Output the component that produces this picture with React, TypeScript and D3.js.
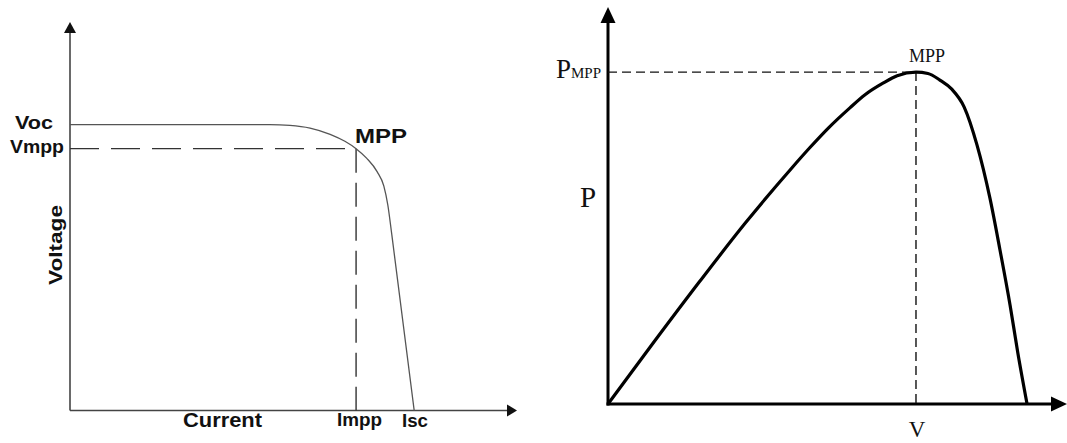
import React from "react";
import * as d3 from "d3";

// ---- Left chart: I-V style curve (Current on x, Voltage on y), units 0..100
const ivCurrent = [0, 44.7, 49.2, 53.7, 58.2, 61.5, 64.0, 66.4, 68.7, 70.2, 71.1, 72.0, 77.0];
const ivVoltage = [73.6, 73.6, 73.4, 72.7, 71.1, 69.3, 67.4, 64.9, 61.5, 57.8, 52.9, 45.2, 0];
const vOC = 73.6;
const vMPP = 67.4;
const iMPP = 64.0;
const iSC = 77.0;
const leftLabels = { voc: "Voc", vmpp: "Vmpp", mpp: "MPP", yTitle: "Voltage", xTitle: "Current", impp: "Impp", isc: "Isc" };

// ---- Right chart: P-V curve, units 0..100
const pvVoltage = [0, 10, 20, 30, 40, 44, 48, 52.7, 56, 59.9, 63, 67.1, 69.7, 72.3, 74.9, 77.6, 80.4, 83.2, 85.4, 87.6, 89.3, 91.3];
const pvPower = [0, 15.6, 30.9, 45.7, 59.4, 64.6, 69.5, 74.6, 77.9, 80.8, 82.7, 83.6, 83.25, 81.6, 79.3, 74.8, 65.2, 51.9, 38.8, 24.9, 12.8, 0];
const pMPP = 83.6;
const vAtMPP = 67.1;

export default function App() {
  const lx = d3.scaleLinear().domain([0, 100]).range([70, 517]);
  const ly = d3.scaleLinear().domain([0, 100]).range([410.5, 22]);
  const rx = d3.scaleLinear().domain([0, 100]).range([608, 1067]);
  const ry = d3.scaleLinear().domain([0, 100]).range([404, 7]);

  const ivData = ivCurrent.map((c, i) => [c, ivVoltage[i]] as [number, number]);
  const pvData = pvVoltage.map((v, i) => [v, pvPower[i]] as [number, number]);

  const ivLine = d3
    .line<[number, number]>()
    .x((d) => lx(d[0]))
    .y((d) => ly(d[1]))
    .curve(d3.curveMonotoneX);
  const pvLine = d3
    .line<[number, number]>()
    .x((d) => rx(d[0]))
    .y((d) => ry(d[1]))
    .curve(d3.curveMonotoneX);

  const sans = "'Liberation Sans', Arial, sans-serif";
  const serif = "'Liberation Serif', 'Times New Roman', serif";
  const axL = "#444";

  const lx0 = lx(0), ly0 = ly(0), lxEnd = lx(100), lyTop = ly(100);
  const rx0 = rx(0), ry0 = ry(0), rxEnd = rx(100), ryTop = ry(100);

  return (
    <svg
      width={1067}
      height={443}
      style={{ position: "absolute", left: 0, top: 0, background: "#fff", display: "block" }}
    >
      <rect x={0} y={0} width={1067} height={443} fill="#fff" />
      {/* ===== Left chart ===== */}
      <line x1={lx0} y1={ly0} x2={lx0} y2={lyTop + 10} stroke={axL} strokeWidth={1.6} />
      <path d={`M${lx0 - 6},${lyTop + 11} L${lx0 + 6},${lyTop + 11} L${lx0},${lyTop} Z`} fill="#111" />
      <line x1={lx0} y1={ly0} x2={lxEnd - 9} y2={ly0} stroke={axL} strokeWidth={1.6} />
      <path d={`M${lxEnd - 10},${ly0 - 6} L${lxEnd - 10},${ly0 + 6} L${lxEnd},${ly0} Z`} fill="#111" />

      <line x1={lx0} y1={ly(vMPP)} x2={lx(iMPP)} y2={ly(vMPP)} stroke="#333" strokeWidth={1.4} strokeDasharray="29,12" />
      <line x1={lx(iMPP)} y1={ly(vMPP)} x2={lx(iMPP)} y2={ly0} stroke="#333" strokeWidth={1.4} strokeDasharray="24,10" />

      <path d={ivLine(ivData) || ""} fill="none" stroke="#555" strokeWidth={1.3} />

      <text x={15} y={129} fontFamily={sans} fontWeight="bold" fontSize={18} textLength={38} lengthAdjust="spacingAndGlyphs" fill="#111">{leftLabels.voc}</text>
      <text x={10} y={153} fontFamily={sans} fontWeight="bold" fontSize={18} textLength={54} lengthAdjust="spacingAndGlyphs" fill="#111">{leftLabels.vmpp}</text>
      <text x={355} y={143} fontFamily={sans} fontWeight="bold" fontSize={21} textLength={52} lengthAdjust="spacingAndGlyphs" fill="#111">{leftLabels.mpp}</text>
      <text transform="translate(62,245) rotate(-90)" textAnchor="middle" fontFamily={sans} fontWeight="bold" fontSize={19} textLength={80} lengthAdjust="spacingAndGlyphs" fill="#111">{leftLabels.yTitle}</text>
      <text x={183} y={427} fontFamily={sans} fontWeight="bold" fontSize={20} textLength={79} lengthAdjust="spacingAndGlyphs" fill="#111">{leftLabels.xTitle}</text>
      <text x={337} y={426} fontFamily={sans} fontWeight="bold" fontSize={18} textLength={45} lengthAdjust="spacingAndGlyphs" fill="#111">{leftLabels.impp}</text>
      <text x={402} y={427} fontFamily={sans} fontWeight="bold" fontSize={18} textLength={26} lengthAdjust="spacingAndGlyphs" fill="#111">{leftLabels.isc}</text>
      <g data-isc={iSC} data-voc={vOC} />

      {/* ===== Right chart ===== */}
      <line x1={rx0} y1={ry0 + 1.5} x2={rx0} y2={ryTop + 14} stroke="#000" strokeWidth={3} />
      <path d={`M${rx0 - 7.5},${ryTop + 16} L${rx0 + 7.5},${ryTop + 16} L${rx0},${ryTop} Z`} fill="#000" />
      <line x1={rx0 - 1.5} y1={ry0} x2={rxEnd - 14} y2={ry0} stroke="#000" strokeWidth={3} />
      <path d={`M${rxEnd - 16},${ry0 - 7.5} L${rxEnd - 16},${ry0 + 7.5} L${rxEnd},${ry0} Z`} fill="#000" />

      <line x1={rx0} y1={ry(pMPP)} x2={rx(vAtMPP)} y2={ry(pMPP)} stroke="#111" strokeWidth={1.4} strokeDasharray="9,5" />
      <line x1={rx(vAtMPP)} y1={ry(pMPP)} x2={rx(vAtMPP)} y2={ry0} stroke="#111" strokeWidth={1.4} strokeDasharray="9,5" />

      <path d={pvLine(pvData) || ""} fill="none" stroke="#000" strokeWidth={3.2} strokeLinejoin="round" />

      <text x={556} y={78} fontFamily={serif} fontSize={27} fill="#111">
        P<tspan fontSize={15}>MPP</tspan>
      </text>
      <text x={909} y={62} fontFamily={serif} fontSize={18} fill="#111">MPP</text>
      <text x={580} y={207} fontFamily={serif} fontSize={29} fill="#111">P</text>
      <text x={917} y={437} textAnchor="middle" fontFamily={serif} fontSize={23} fill="#111">V</text>
    </svg>
  );
}
